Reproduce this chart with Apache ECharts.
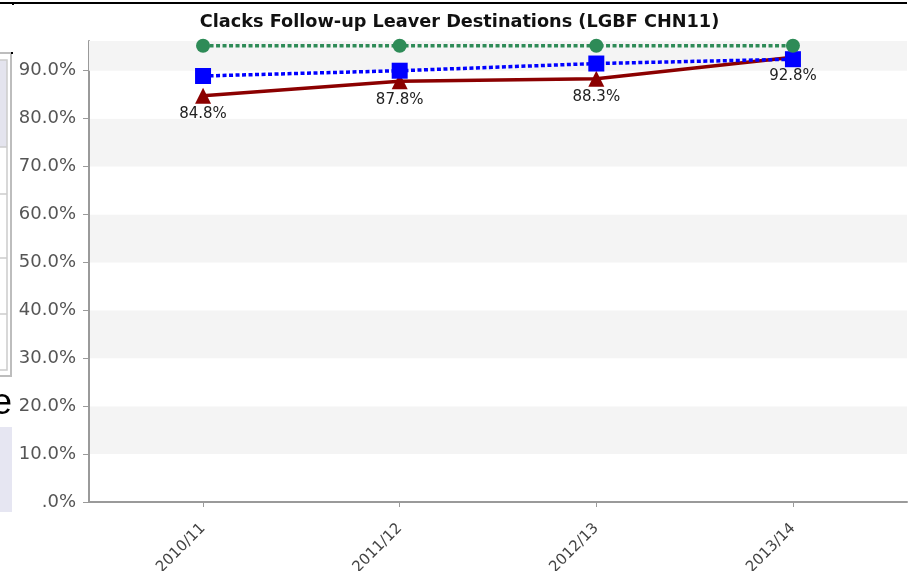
<!DOCTYPE html>
<html>
<head>
<meta charset="utf-8">
<script src="https://cdn.jsdelivr.net/npm/echarts@6/dist/echarts.min.js"></script>
<style>
  html, body { margin: 0; padding: 0; background: #fff; }
  #chart { width: 919px; height: 571px; }
</style>
</head>
<body>
<div id="chart"></div>
<script>
// data
const categories = ['2010/11', '2011/12', '2012/13', '2013/14']
const clacks = [84.8, 87.8, 88.3, 92.8]
const comparatorBlue = [88.9, 90.0, 91.5, 92.4]
const comparatorGreen = [95.2, 95.2, 95.2, 95.2]
const yTicks = [0, 10, 20, 30, 40, 50, 60, 70, 80, 90]
const yMax = 96.2

const font = 'DejaVu Sans'
const pairs = arr => arr.map((v, i) => [i, v])

const chart = echarts.init(document.getElementById('chart'))
chart.setOption({
  animation: false,
  title: {
    text: 'Clacks Follow-up Leaver Destinations (LGBF CHN11)',
    left: 'center',
    top: 8,
    textStyle: { fontFamily: font, fontSize: 17.7, fontWeight: 'bold', color: '#111' }
  },
  grid: { left: 89, right: 12, top: 41, bottom: 69, outerBoundsMode: 'none' },
  xAxis: {
    type: 'value',
    min: -0.58,
    max: 3.58,
    splitLine: { show: false },
    axisLine: { show: true, onZero: false, lineStyle: { color: '#9a9a9a', width: 2 } },
    axisTick: { show: true, length: 5, customValues: [0, 1, 2, 3], lineStyle: { color: '#9a9a9a' } },
    axisLabel: {
      customValues: [0, 1, 2, 3],
      rotate: 45,
      margin: 24,
      fontFamily: font,
      fontSize: 15,
      color: '#444',
      formatter: v => categories[Math.round(v)]
    }
  },
  yAxis: {
    type: 'value',
    min: 0,
    max: yMax,
    interval: 10,
    axisLine: { show: true, onZero: false, lineStyle: { color: '#9a9a9a', width: 2 } },
    axisTick: { show: true, length: 6, customValues: yTicks, lineStyle: { color: '#9a9a9a' } },
    splitLine: { show: false },
    splitArea: { show: true, areaStyle: { color: ['#ffffff', '#f4f4f4'] } },
    axisLabel: {
      customValues: yTicks,
      margin: 13,
      fontFamily: font,
      fontSize: 18,
      color: '#555',
      formatter: v => (v === 0 ? '.0%' : v.toFixed(1) + '%')
    }
  },
  series: [
    {
      name: 'Clacks',
      type: 'line',
      data: pairs(clacks),
      z: 2,
      symbol: 'triangle',
      symbolSize: 16,
      itemStyle: { color: '#8b0000' },
      lineStyle: { color: '#8b0000', width: 3.5 },
      label: {
        show: true,
        position: 'bottom',
        distance: 3,
        fontFamily: font,
        fontSize: 15,
        color: '#222',
        formatter: p => p.value[1].toFixed(1) + '%'
      },
      // the band above the last tick keeps the alternating shading
      markArea: {
        silent: true,
        itemStyle: { color: '#f4f4f4' },
        data: [[{ yAxis: 90 }, { yAxis: yMax }]]
      }
    },
    {
      name: 'Comparator',
      type: 'line',
      data: pairs(comparatorBlue),
      z: 3,
      symbol: 'rect',
      symbolSize: 16,
      itemStyle: { color: '#0000ff' },
      lineStyle: { color: '#0000ff', width: 3.5, type: [4, 2.5] }
    },
    {
      name: 'Scotland',
      type: 'line',
      data: pairs(comparatorGreen),
      z: 4,
      symbol: 'circle',
      symbolSize: 14,
      itemStyle: { color: '#2e8b57' },
      lineStyle: { color: '#2e8b57', width: 3.5, type: [4, 2.5] }
    }
  ],
  // bits of the surrounding page that show at the edges of the screenshot
  graphic: [
    { type: 'line', shape: { x1: 0, y1: 3, x2: 907, y2: 3 }, style: { stroke: '#000', lineWidth: 2 } },
    { type: 'rect', shape: { x: 12, y: 3, width: 2, height: 2 }, style: { fill: '#000' } },
    { type: 'rect', shape: { x: 0, y: 60, width: 7, height: 87 }, style: { fill: '#e4e4ee' } },
    { type: 'polyline', shape: { points: [[-2, 53], [11, 53], [11, 376], [-2, 376]] }, style: { stroke: '#bdbdbd', lineWidth: 2, fill: null } },
    { type: 'rect', shape: { x: 11, y: 52, width: 2, height: 2 }, style: { fill: '#000' } },
    { type: 'polyline', shape: { points: [[-2, 60], [7, 60], [7, 370], [-2, 370]] }, style: { stroke: '#cccccc', lineWidth: 1.5, fill: null } },
    { type: 'line', shape: { x1: 0, y1: 147, x2: 7, y2: 147 }, style: { stroke: '#cccccc', lineWidth: 1.5 } },
    { type: 'line', shape: { x1: 0, y1: 194, x2: 7, y2: 194 }, style: { stroke: '#cccccc', lineWidth: 1.5 } },
    { type: 'line', shape: { x1: 0, y1: 258, x2: 7, y2: 258 }, style: { stroke: '#cccccc', lineWidth: 1.5 } },
    { type: 'line', shape: { x1: 0, y1: 314, x2: 7, y2: 314 }, style: { stroke: '#cccccc', lineWidth: 1.5 } },
    { type: 'text', x: 12, y: 404, style: { text: 'e', font: '36px Liberation Sans', fill: '#000', align: 'right', verticalAlign: 'middle' } },
    { type: 'rect', shape: { x: 0, y: 427, width: 12, height: 85 }, style: { fill: '#e6e6f2' } }
  ]
})
</script>
</body>
</html>
